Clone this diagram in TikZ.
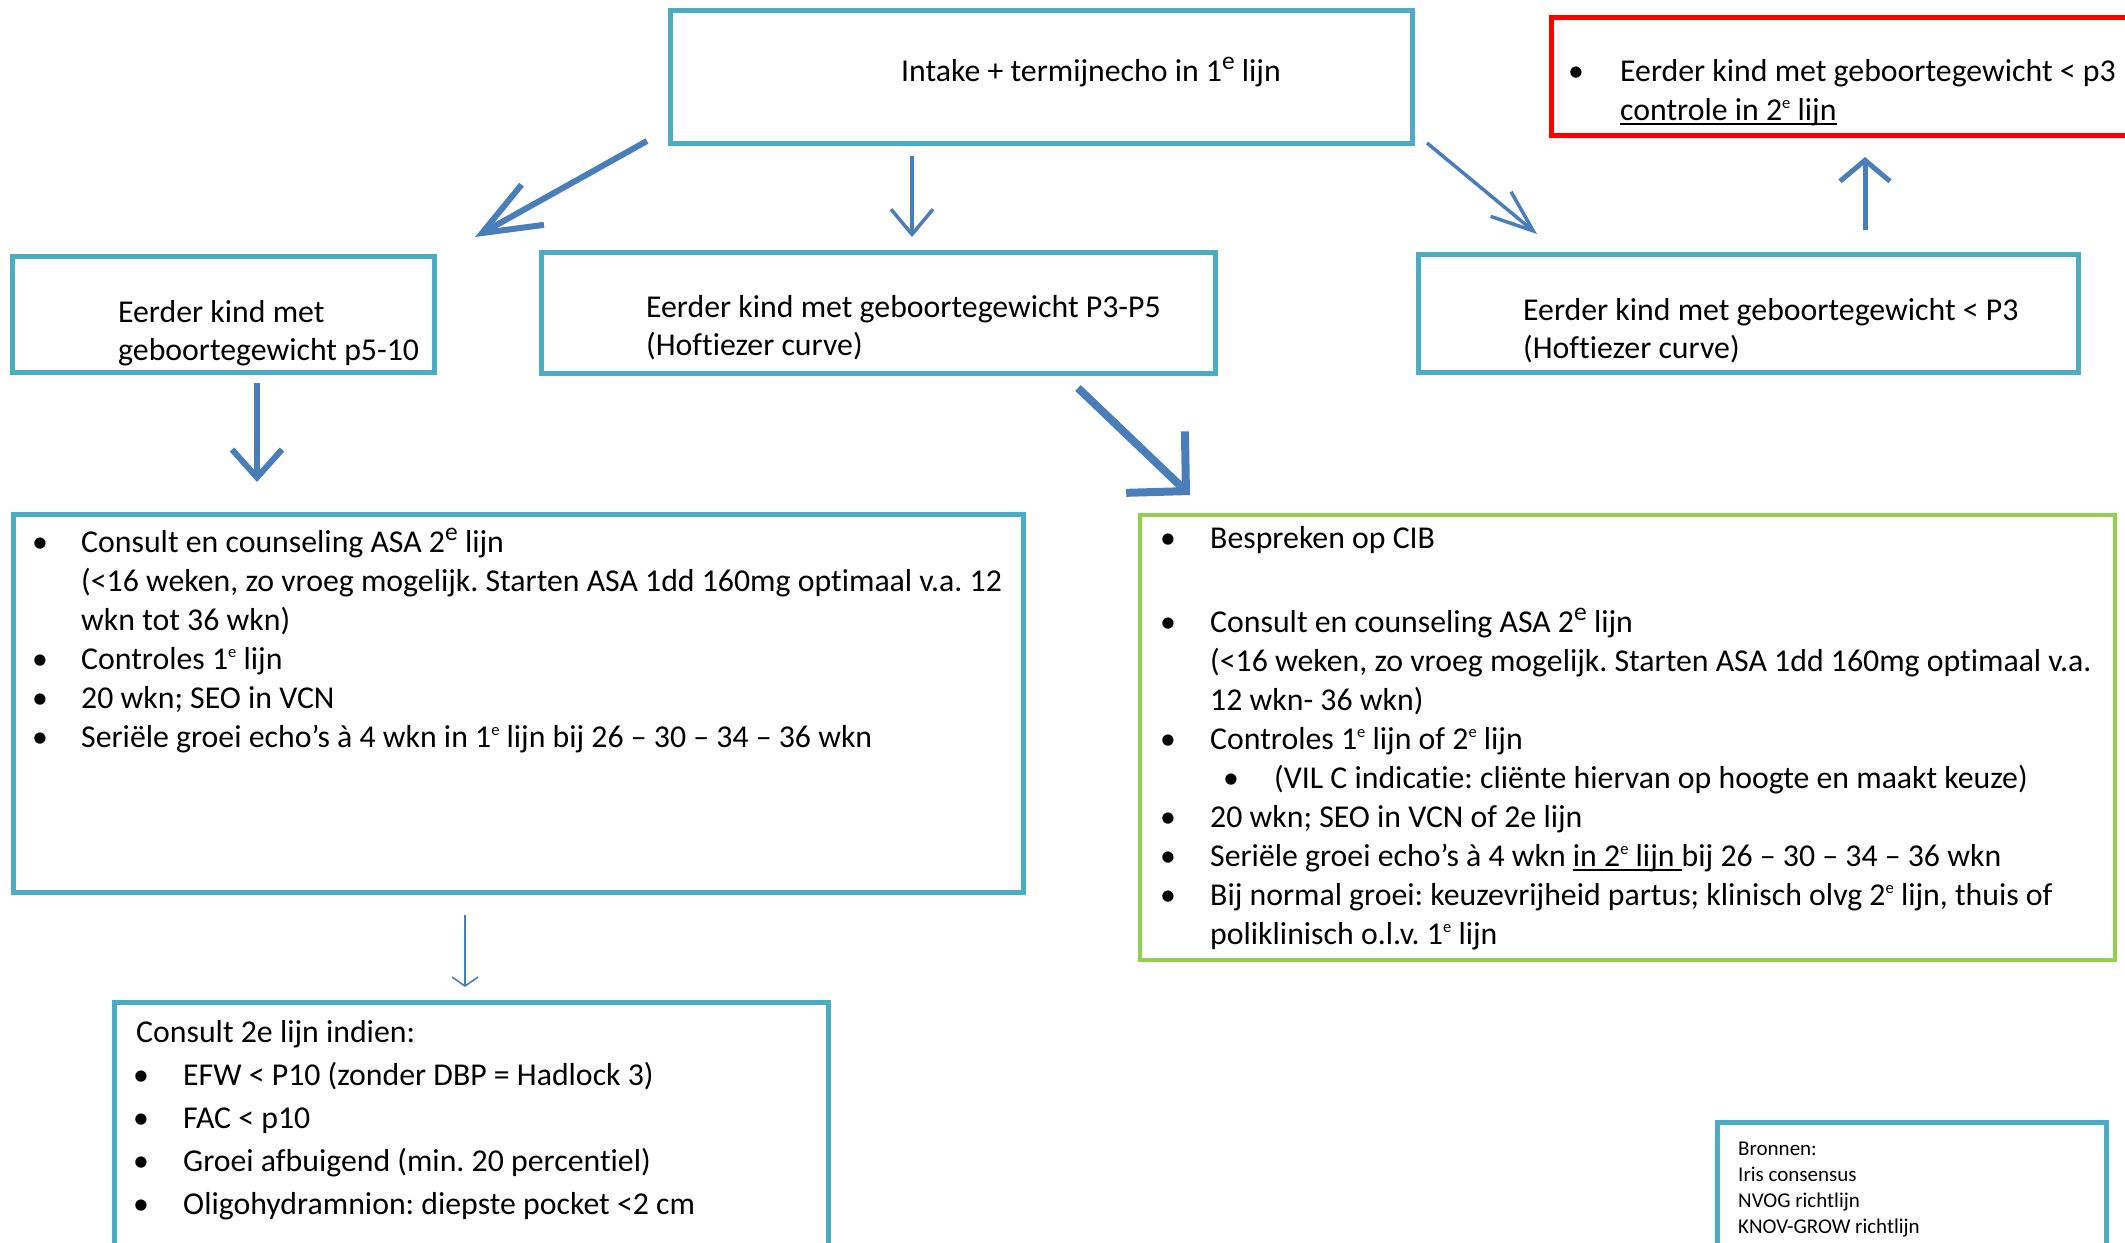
\documentclass[tikz,border=0pt]{standalone}
\usepackage{fontspec}
\usepackage{graphicx}
\setmainfont{Carlito}[Ligatures=NoCommon]
\usetikzlibrary{arrows.meta}
\frenchspacing
\definecolor{boxblue}{HTML}{4BACC6}
\definecolor{arrblue}{HTML}{4A7EBB}
\definecolor{boxgreen}{HTML}{92D050}
\definecolor{boxred}{HTML}{FF0000}
\newcommand\ebig{\raisebox{0.35em}{\scalebox{0.8}{e}}}
\newcommand\esm{\raisebox{0.36em}{\scalebox{0.52}{e}}}
\newcommand\myul[1]{\setbox0\hbox{#1}\rlap{\raisebox{-5pt}{\rule{\wd0}{2.4pt}}}\box0}
\tikzset{
  bbox/.style={draw=boxblue, line width=5pt, anchor=north west, inner sep=0pt, outer sep=0pt},
  rbox/.style={bbox, draw=boxred},
  gbox/.style={bbox, draw=boxgreen, line width=4.5pt},
  txt/.style={anchor=base west, inner sep=0pt, font=\fontsize{31.8}{39}\selectfont\frenchspacing},
  bul/.style={anchor=base, inner sep=0pt, font=\fontsize{31.8}{39}\selectfont},
  small/.style={anchor=base west, inner sep=0pt, font=\fontsize{21}{26}\selectfont},
  arr/.style={draw=arrblue, line cap=butt},
}
\begin{document}
\begin{tikzpicture}[x=1pt,y=-1pt]
\useasboundingbox (0,0) rectangle (2125,1242);
\clip (0,0) rectangle (2125,1242);
\fill[white] (0,0) rectangle (2125,1242);

% boxes
\node[bbox, minimum width=742pt, minimum height=133pt] (top) at (670,10) {};
\node[rbox, minimum width=600pt, minimum height=118pt] (red) at (1551,17) {};
\node[bbox, minimum width=660pt, minimum height=118pt] (rp3) at (1418,254) {};
\node[bbox, minimum width=422pt, minimum height=116pt] (p510) at (12,256) {};
\node[bbox, minimum width=674pt, minimum height=121pt] (p3p5) at (541,252) {};
\node[bbox, minimum width=1010pt, minimum height=378pt] (left) at (13,514) {};
\node[gbox, minimum width=975pt, minimum height=445pt] (green) at (1140,515) {};
\node[bbox, minimum width=714pt, minimum height=270pt] (bottom) at (114,1002) {};
\node[bbox, minimum width=389pt, minimum height=150pt] (bron) at (1717,1122) {};

% texts
\node[txt] (ttop) at (901,81) {Intake + termijnecho in 1\ebig{} lijn};

\node[bul] (rb1) at (1576,81) {•};
\node[txt] (rt1) at (1620,81) {Eerder kind met geboortegewicht < p3};
\node[txt] (rt2) at (1620,120) {\myul{controle in 2\esm{} lijn}};

\node[txt] (pa1) at (1523,320) {Eerder kind met geboortegewicht < P3};
\node[txt] (pa2) at (1523,358) {(Hoftiezer curve)};

\node[txt] (pb1) at (118,322) {Eerder kind met};
\node[txt] (pb2) at (118,360) {geboortegewicht p5-10};

\node[txt] (pc1) at (646,317) {Eerder kind met geboortegewicht P3-P5};
\node[txt] (pc2) at (646,355) {(Hoftiezer curve)};

% left big box
\node[bul] (lb1) at (40,552) {•};
\node[txt] (lt1) at (81,552) {Consult en counseling ASA 2\ebig{} lijn};
\node[txt] (lt2) at (81,591) {(<16 weken, zo vroeg mogelijk. Starten ASA 1dd 160mg optimaal v.a. 12};
\node[txt] (lt3) at (81,630) {wkn tot 36 wkn)};
\node[bul] (lb2) at (40,669) {•};
\node[txt] (lt4) at (81,669) {Controles 1\esm{} lijn};
\node[bul] (lb3) at (40,708) {•};
\node[txt] (lt5) at (81,708) {20 wkn; SEO in VCN};
\node[bul] (lb4) at (40,747) {•};
\node[txt] (lt6) at (81,747) {Seriële groei echo’s à 4 wkn in 1\esm{} lijn bij 26 – 30 – 34 – 36 wkn};

% green box
\node[bul] (gb1) at (1168,548) {•};
\node[txt] (gt1) at (1210,548) {Bespreken op CIB};
\node[bul] (gb2) at (1168,632) {•};
\node[txt] (gt2) at (1210,632) {Consult en counseling ASA 2\ebig{} lijn};
\node[txt] (gt3) at (1210,671) {(<16 weken, zo vroeg mogelijk. Starten ASA 1dd 160mg optimaal v.a.};
\node[txt] (gt4) at (1210,710) {12 wkn- 36 wkn)};
\node[bul] (gb3) at (1168,749) {•};
\node[txt] (gt5) at (1210,749) {Controles 1\esm{} lijn of 2\esm{} lijn};
\node[bul] (gb4) at (1231,788) {•};
\node[txt] (gt6) at (1274,788) {(VIL C indicatie: cliënte hiervan op hoogte en maakt keuze)};
\node[bul] (gb5) at (1168,827) {•};
\node[txt] (gt7) at (1210,827) {20 wkn; SEO in VCN of 2e lijn};
\node[bul] (gb6) at (1168,866) {•};
\node[txt] (gt8) at (1210,866) {Seriële groei echo’s à 4 wkn \myul{in 2\esm{} lijn }bij 26 – 30 – 34 – 36 wkn};
\node[bul] (gb7) at (1168,905) {•};
\node[txt] (gt9) at (1210,905) {Bij normal groei: keuzevrijheid partus; klinisch olvg 2\esm{} lijn, thuis of};
\node[txt] (gt10) at (1210,944) {poliklinisch o.l.v. 1\esm{} lijn};

% bottom box
\node[txt] (bt0) at (136,1042) {Consult 2e lijn indien:};
\node[bul] (bb1) at (141,1085) {•};
\node[txt] (bt1) at (183,1085) {EFW < P10 (zonder DBP = Hadlock 3)};
\node[bul] (bb2) at (141,1128) {•};
\node[txt] (bt2) at (183,1128) {FAC < p10};
\node[bul] (bb3) at (141,1171) {•};
\node[txt] (bt3) at (183,1171) {Groei afbuigend (min. 20 percentiel)};
\node[bul] (bb4) at (141,1214) {•};
\node[txt] (bt4) at (183,1214) {Oligohydramnion: diepste pocket <2 cm};

% sources
\node[small] (s1) at (1738,1155) {Bronnen:};
\node[small] (s2) at (1738,1181) {Iris consensus};
\node[small] (s3) at (1738,1207) {NVOG richtlijn};
\node[small] (s4) at (1738,1233) {KNOV-GROW richtlijn};

% arrows
\coordinate (a1s) at (647,141);  \coordinate (a1e) at (475,237);
\coordinate (a2s) at (912,156);  \coordinate (a2e) at (912,237);
\coordinate (a3s) at (1427,143); \coordinate (a3e) at (1537,234);
\coordinate (a4s) at (1865,230); \coordinate (a4e) at (1865,157);
\coordinate (a5s) at (257,383);  \coordinate (a5e) at (257,482);
\coordinate (a6s) at (1078,388); \coordinate (a6e) at (1190,495);
\coordinate (a7s) at (465,915);  \coordinate (a7e) at (465,987);

\draw[arr, line width=6pt, -{Straight Barb[length=58pt,width=46pt]}] (a1s) -- (a1e);
\draw[arr, line width=3.5pt, -{Straight Barb[length=25pt,width=42pt]}] (a2s) -- (a2e);
\draw[arr, line width=3.5pt, -{Straight Barb[length=42pt,width=32pt]}] (a3s) -- (a3e);
\draw[arr, line width=5pt, -{Straight Barb[length=21pt,width=50pt]}] (a4s) -- (a4e);
\draw[arr, line width=6pt, -{Straight Barb[length=28pt,width=50pt]}] (a5s) -- (a5e);
\draw[arr, line width=8pt, -{Straight Barb[length=42pt,width=85pt]}] (a6s) -- (a6e);
\draw[arr, line width=1.6pt, -{Straight Barb[length=9pt,width=26pt]}] (a7s) -- (a7e);
\end{tikzpicture}
\end{document}
